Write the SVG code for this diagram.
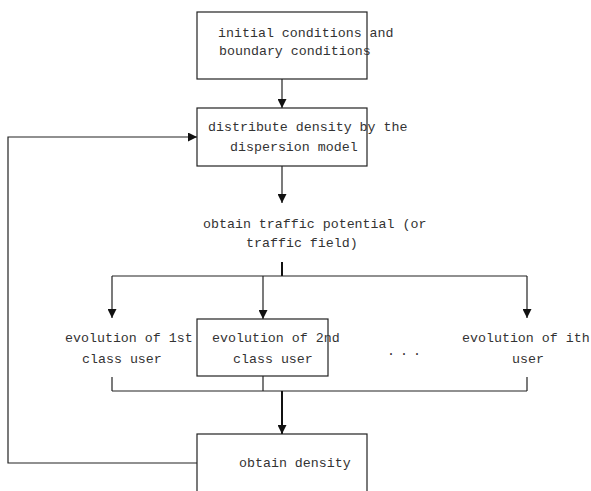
<svg xmlns="http://www.w3.org/2000/svg" width="591" height="491" viewBox="0 0 591 491">
<style>
.box{fill:#fff;stroke:#222;stroke-width:1.2}
.t{font-family:"Liberation Mono","Courier New",monospace;font-size:13.3px;fill:#333}
.c{fill:none;stroke:#222;stroke-width:1.2}
.thick{fill:none;stroke:#111;stroke-width:2}
</style>
<defs>
<marker id="ah" markerUnits="userSpaceOnUse" markerWidth="9" markerHeight="9" refX="9" refY="4.5" orient="auto" viewBox="0 0 9 9">
<path d="M0,0 L9,4.5 L0,9 z" fill="#111"/>
</marker>
</defs>
<rect width="591" height="491" fill="#fff"/>
<g id="connectors">
<line class="c" x1="282" y1="79" x2="282" y2="108" marker-end="url(#ah)"/>
<line class="c" x1="282" y1="166" x2="282" y2="203" marker-end="url(#ah)"/>
<line class="thick" x1="282" y1="262" x2="282" y2="276"/>
<line class="c" x1="112" y1="276" x2="527" y2="276"/>
<line class="c" x1="112" y1="276" x2="112" y2="318" marker-end="url(#ah)"/>
<line class="c" x1="263" y1="276" x2="263" y2="319" marker-end="url(#ah)"/>
<line class="c" x1="527" y1="276" x2="527" y2="318" marker-end="url(#ah)"/>
<line class="c" x1="112" y1="377" x2="112" y2="391"/>
<line class="c" x1="263" y1="376" x2="263" y2="391"/>
<line class="c" x1="527" y1="377" x2="527" y2="391"/>
<line class="c" x1="112" y1="391" x2="527" y2="391"/>
<line class="thick" x1="282" y1="391" x2="282" y2="434" marker-end="url(#ah)"/>
<polyline class="c" points="197,463 8,463 8,137 197,137" marker-end="url(#ah)"/>
</g>
<g id="n1">
<rect class="box" x="197" y="12" width="170" height="67"/>
<text class="t" x="218" y="37">initial conditions and</text>
<text class="t" x="219" y="55">boundary conditions</text>
</g>
<g id="n2">
<rect class="box" x="197" y="108" width="170" height="58"/>
<text class="t" x="208" y="131">distribute density by the</text>
<text class="t" x="230" y="151">dispersion model</text>
</g>
<g id="n3">
<text class="t" x="203" y="228">obtain traffic potential (or</text>
<text class="t" x="246" y="247">traffic field)</text>
</g>
<g id="n4">
<text class="t" x="65" y="342">evolution of 1st</text>
<text class="t" x="82" y="363">class user</text>
</g>
<g id="n5">
<rect class="box" x="197" y="319" width="131" height="57"/>
<text class="t" x="212" y="342">evolution of 2nd</text>
<text class="t" x="233" y="363">class user</text>
</g>
<g id="n6">
<text class="t" x="387" y="355" letter-spacing="5">...</text>
</g>
<g id="n7">
<text class="t" x="462" y="342">evolution of ith</text>
<text class="t" x="512" y="363">user</text>
</g>
<g id="n8">
<rect class="box" x="197" y="434" width="170" height="80"/>
<text class="t" x="239" y="467">obtain density</text>
</g>
</svg>
